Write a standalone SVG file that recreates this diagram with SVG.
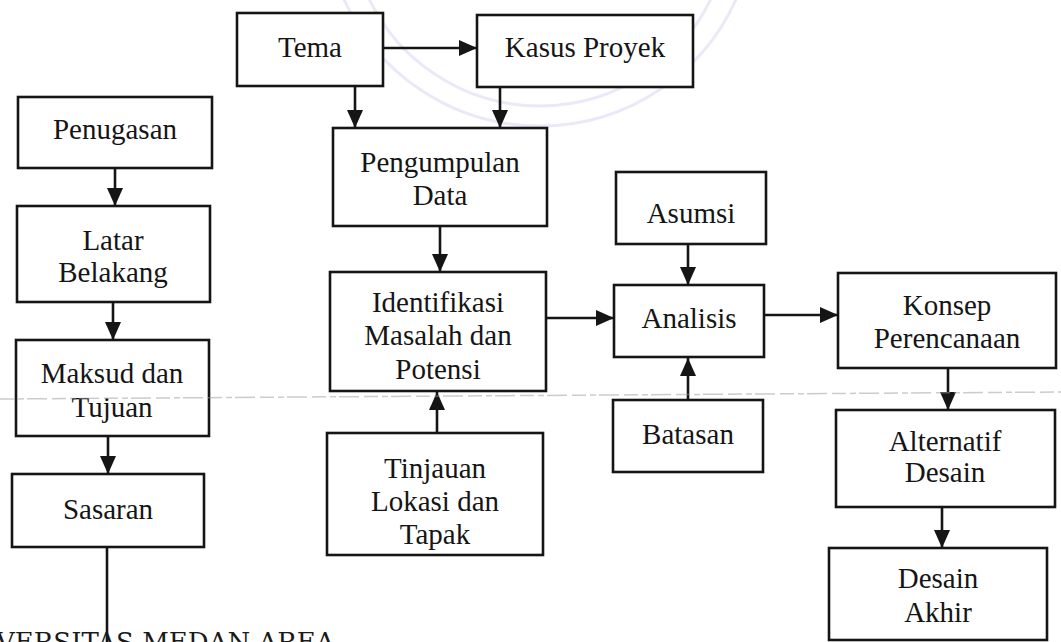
<svg xmlns="http://www.w3.org/2000/svg" width="1061" height="642" viewBox="0 0 1061 642">
<style>
.box{fill:#fff;stroke:#151515;stroke-width:2.6}
.t{font-family:"Liberation Serif","Times New Roman",serif;font-size:29px;fill:#151515;text-anchor:middle}
.c{stroke:#151515;stroke-width:2.6;fill:none;marker-end:url(#ah)}
.wm{fill:none;stroke:#ebe9f7;stroke-width:3}
</style>
<defs>
<marker id="ah" markerUnits="userSpaceOnUse" markerWidth="18" markerHeight="16" refX="18" refY="8" orient="auto">
<path d="M0,0 L18,8 L0,16 z" fill="#151515"/>
</marker>
</defs>
<rect width="1061" height="642" fill="#fff"/>
<g id="watermark">
<path class="wm" d="M340,-10 A215,215 0 0 0 740,-10"/>
<path class="wm" d="M365,-10 A190,190 0 0 0 715,-10"/>
</g>
<g id="connectors">
<line class="c" x1="384" y1="48" x2="477" y2="48"/>
<line class="c" x1="355" y1="87" x2="355" y2="128"/>
<line class="c" x1="500" y1="88" x2="500" y2="128"/>
<line class="c" x1="115" y1="169" x2="115" y2="206"/>
<line class="c" x1="113" y1="303" x2="113" y2="340"/>
<line class="c" x1="108" y1="437" x2="108" y2="474"/>
<line x1="107" y1="548" x2="107" y2="642" stroke="#151515" stroke-width="2.6"/>
<line class="c" x1="440" y1="227" x2="440" y2="272"/>
<line class="c" x1="437" y1="433" x2="437" y2="392"/>
<line class="c" x1="547" y1="318" x2="614" y2="318"/>
<line class="c" x1="688" y1="245" x2="688" y2="285"/>
<line class="c" x1="688" y1="400" x2="688" y2="358"/>
<line class="c" x1="765" y1="315" x2="838" y2="315"/>
<line class="c" x1="948" y1="369" x2="948" y2="410"/>
<line class="c" x1="942" y1="508" x2="942" y2="548"/>
</g>
<g id="tema"><rect class="box" x="237" y="13" width="146" height="73"/><text class="t" x="310" y="57">Tema</text></g>
<g id="kasus"><rect class="box" x="477" y="15" width="216" height="72"/><text class="t" x="585" y="57">Kasus Proyek</text></g>
<g id="penugasan"><rect class="box" x="18" y="97" width="194" height="71"/><text class="t" x="115" y="139">Penugasan</text></g>
<g id="latar"><rect class="box" x="17" y="206" width="193" height="96"/><text class="t" x="113" y="250">Latar</text><text class="t" x="113" y="282">Belakang</text></g>
<g id="maksud"><rect class="box" x="16" y="340" width="193" height="96"/><text class="t" x="112" y="383">Maksud dan</text><text class="t" x="112" y="417">Tujuan</text></g>
<g id="sasaran"><rect class="box" x="12" y="474" width="192" height="73"/><text class="t" x="108" y="519">Sasaran</text></g>
<g id="pengumpulan"><rect class="box" x="333" y="128" width="214" height="98"/><text class="t" x="440" y="172">Pengumpulan</text><text class="t" x="440" y="205">Data</text></g>
<g id="identifikasi"><rect class="box" x="330" y="272" width="216" height="119"/><text class="t" x="438" y="312">Identifikasi</text><text class="t" x="438" y="345">Masalah dan</text><text class="t" x="438" y="379">Potensi</text></g>
<g id="tinjauan"><rect class="box" x="327" y="433" width="216" height="122"/><text class="t" x="435" y="478">Tinjauan</text><text class="t" x="435" y="511">Lokasi dan</text><text class="t" x="435" y="544">Tapak</text></g>
<g id="asumsi"><rect class="box" x="616" y="172" width="150" height="72"/><text class="t" x="691" y="223">Asumsi</text></g>
<g id="analisis"><rect class="box" x="614" y="285" width="150" height="72"/><text class="t" x="689" y="328">Analisis</text></g>
<g id="batasan"><rect class="box" x="613" y="400" width="150" height="72"/><text class="t" x="688" y="444">Batasan</text></g>
<g id="konsep"><rect class="box" x="838" y="273" width="218" height="95"/><text class="t" x="947" y="315">Konsep</text><text class="t" x="947" y="348">Perencanaan</text></g>
<g id="alternatif"><rect class="box" x="836" y="410" width="219" height="97"/><text class="t" x="945" y="451">Alternatif</text><text class="t" x="945" y="482">Desain</text></g>
<g id="desain-akhir"><rect class="box" x="829" y="548" width="218" height="92"/><text class="t" x="938" y="588">Desain</text><text class="t" x="938" y="622">Akhir</text></g>
<line x1="0" y1="399" x2="1061" y2="392" stroke="#9a9a9a" stroke-width="1.5" stroke-dasharray="14 4 6 3 20 5" opacity="0.5"/>
<text x="-4" y="651" font-family="DejaVu Serif,serif" font-size="26" fill="#1a1a1a">VERSITAS MEDAN AREA</text>
</svg>
